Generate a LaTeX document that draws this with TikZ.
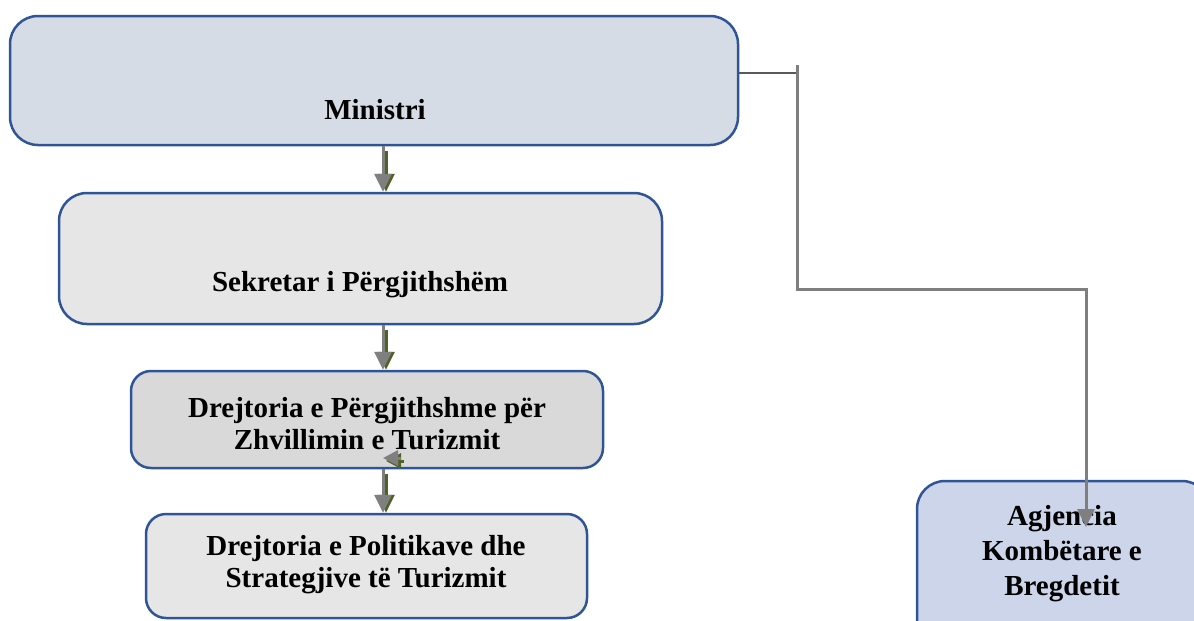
\documentclass[tikz,border=0pt]{standalone}
\usepackage{fontspec}
\setmainfont{Liberation Serif}
\usetikzlibrary{arrows.meta,positioning}

\definecolor{boxline}{HTML}{2F5597}
\definecolor{fillmin}{HTML}{D6DCE5}
\definecolor{fillgray}{HTML}{E7E6E6}
\definecolor{filldark}{HTML}{D9D9D9}
\definecolor{fillagj}{HTML}{CDD5EA}
\definecolor{linkgray}{HTML}{7F7F7F}
\definecolor{linkdark}{HTML}{595959}
\definecolor{linkgreen}{HTML}{4F6228}

\begin{document}
\begin{tikzpicture}
[
	              x = 1pt, y = -1pt,
	     box/.style = { draw=boxline, line width=2.5pt, rounded corners=28pt, inner sep=0pt },
	     txt/.style = { font=\fontsize{29}{32}\selectfont\bfseries, align=center },
	    link/.style = { draw=linkgray, line width=3pt },
	   shade/.style = { draw=linkgreen, line width=3pt },
	     tip/.style = { -{Triangle[width=17pt,length=18pt]} }
]
	\useasboundingbox (0,0) rectangle (1194,621);

	% boxes
	\node (min) at (374,80.5)   [box, fill=fillmin, minimum width=728pt, minimum height=129pt] {};
	\node (sek) at (360.5,258.5) [box, fill=fillgray, minimum width=603pt, minimum height=131pt] {};
	\node (dpz) at (367,419.5)  [box, fill=filldark, rounded corners=20pt, minimum width=472pt, minimum height=97pt] {};
	\node (dps) at (366.5,566)  [box, fill=fillgray, rounded corners=20pt, minimum width=441pt, minimum height=104pt] {};
	\node (agj) at (1063.5,565.5) [box, fill=fillagj, minimum width=293pt, minimum height=169pt] {};

	% texts
	\node (mintxt) at (375,110)  [txt] {Ministri};
	\node (sektxt) at (360,285)  [txt] {Sekretar i Përgjithshëm};
	\node (dpztxt) at (367,424)  [txt] {Drejtoria e Përgjithshme për\\Zhvillimin e Turizmit};
	\node (dpstxt) at (366,565)  [txt] {Drejtoria e Politikave dhe\\Strategjive të Turizmit};
	\node (agjtxt) at (1062,554) [txt, font=\fontsize{29}{35}\selectfont\bfseries] {Agjencia\\Kombëtare e\\Bregdetit};

	% connectors
	\draw [shade, tip] ([xshift=12pt,yshift=-5pt]min.south) -- ([xshift=12pt]min.south |- sek.north);
	\draw [link, tip]  ([xshift=9pt]min.south) -- ([xshift=9pt]min.south |- sek.north);

	\draw [shade, tip] ([xshift=25.5pt,yshift=-5pt]sek.south) -- ([xshift=25.5pt]sek.south |- dpz.north);
	\draw [link, tip]  ([xshift=22.5pt]sek.south) -- ([xshift=22.5pt]sek.south |- dpz.north);

	\draw [shade, tip] ([xshift=19pt,yshift=-5pt]dpz.south) -- ([xshift=19pt]dpz.south |- dps.north);
	\draw [link, tip]  ([xshift=16pt]dpz.south) -- ([xshift=16pt]dpz.south |- dps.north);

	\coordinate (stub) at (401,458);
	\coordinate (stubend) at (383,458);
	\draw [shade, -{Triangle[width=15pt,length=15pt]}] ([xshift=3pt,yshift=-3pt]stub) -- ([xshift=3pt,yshift=-3pt]stubend);
	\draw [link, -{Triangle[width=15pt,length=15pt]}] (stub) -- (stubend);

	\coordinate (join) at (797,73);
	\coordinate (top) at (797,65);
	\coordinate (bend) at (797,289);
	\coordinate (turn) at (1086,289);
	\coordinate (agjin) at (1086,527);
	\draw [draw=linkdark, line width=2pt] ([yshift=7.5pt]min.east) -- (join);
	\draw [link, tip] (top) -- (bend) -- (turn) -- (agjin);

\end{tikzpicture}
\end{document}
